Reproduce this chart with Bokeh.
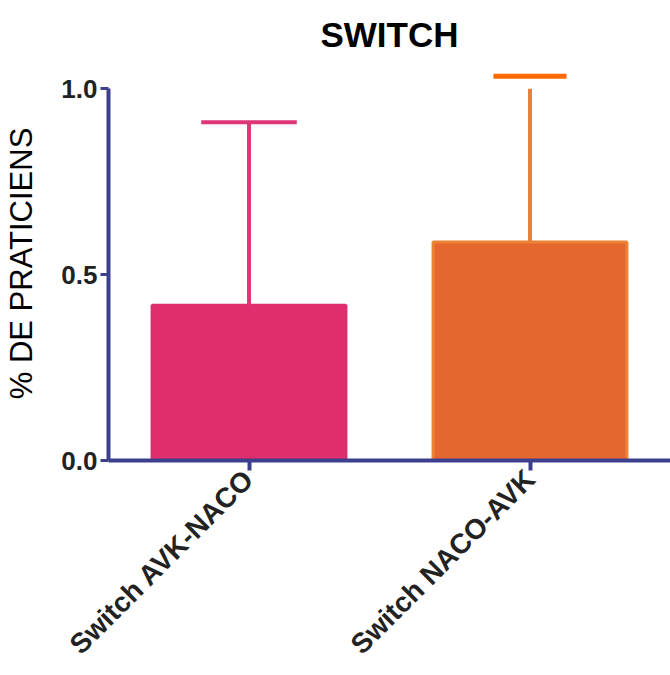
import numpy as np
from bokeh.plotting import figure
from bokeh.models import FactorRange, Range1d, FixedTicker
from bokeh.embed import file_html
from bokeh.resources import INLINE

categories = ["Switch AVK-NACO", "Switch NACO-AVK"]
values = [0.418, 0.588]
err_upper = [0.91, 1.034]
y_ticks = [0.0, 0.5, 1.0]
y_tick_labels = ["0.0", "0.5", "1.0"]

bar_fill = ["#E02D6D", "#E5672F"]
bar_line = ["#E02D6D", "#EC8233"]
whisker_color = ["#DF3579", "#E8823A"]
cap_color = ["#DF3579", "#FF6A00"]
cap_width = [0.34, 0.26]
cap_thick = [4, 5]

AXIS = "#3B3F8E"
FONT = "Liberation Sans"
y_axis_max = 1.0

p = figure(width=670, height=675, output_backend="svg", toolbar_location=None,
           x_range=FactorRange(*categories, range_padding=0),
           y_range=Range1d(0, 1.06), title="SWITCH")
p.min_border_left = 108
p.min_border_right = 0
p.min_border_top = 65
p.min_border_bottom = 215
p.outline_line_color = None
p.grid.visible = False

p.title.align = "center"
p.title.text_font = FONT
p.title.text_font_size = "35px"
p.title.text_font_style = "bold"
p.title.text_color = "black"
p.title.standoff = 25

p.vbar(x=categories, top=values, bottom=0, width=0.69,
       fill_color=bar_fill, line_color=bar_line, line_width=3)

whisker_top = list(np.minimum(np.array(err_upper), y_axis_max))
p.segment(x0=categories, y0=values, x1=categories, y1=whisker_top,
          line_color=whisker_color, line_width=4)
p.rect(x=categories, y=err_upper, width=cap_width, height=cap_thick,
       height_units="screen", fill_color=cap_color, line_color=None)

ya = p.yaxis[0]
ya.ticker = FixedTicker(ticks=y_ticks)
ya.major_label_overrides = {t: l for t, l in zip(y_ticks, y_tick_labels)}
ya.bounds = (0, 1)
ya.axis_label = "% DE PRATICIENS"
ya.axis_label_text_font = FONT
ya.axis_label_text_font_style = "normal"
ya.axis_label_text_font_size = "31px"
ya.axis_label_text_color = "black"
ya.axis_label_standoff = 19
ya.major_label_text_font = FONT
ya.major_label_text_font_style = "bold"
ya.major_label_text_font_size = "26px"
ya.major_label_text_color = "#222222"
ya.major_label_standoff = 3
ya.axis_line_color = AXIS
ya.axis_line_width = 4
ya.major_tick_line_color = AXIS
ya.major_tick_line_width = 3
ya.major_tick_out = 8
ya.major_tick_in = 0
ya.minor_tick_line_color = None

xa = p.xaxis[0]
xa.major_label_orientation = np.pi / 4
xa.major_label_text_font = FONT
xa.major_label_text_font_style = "bold"
xa.major_label_text_font_size = "28px"
xa.major_label_text_color = "#222222"
xa.major_label_standoff = 4
xa.axis_line_color = AXIS
xa.axis_line_width = 4
xa.major_tick_line_color = AXIS
xa.major_tick_line_width = 4
xa.major_tick_out = 10
xa.major_tick_in = 0

open("out.html", "w").write(file_html(p, INLINE))
